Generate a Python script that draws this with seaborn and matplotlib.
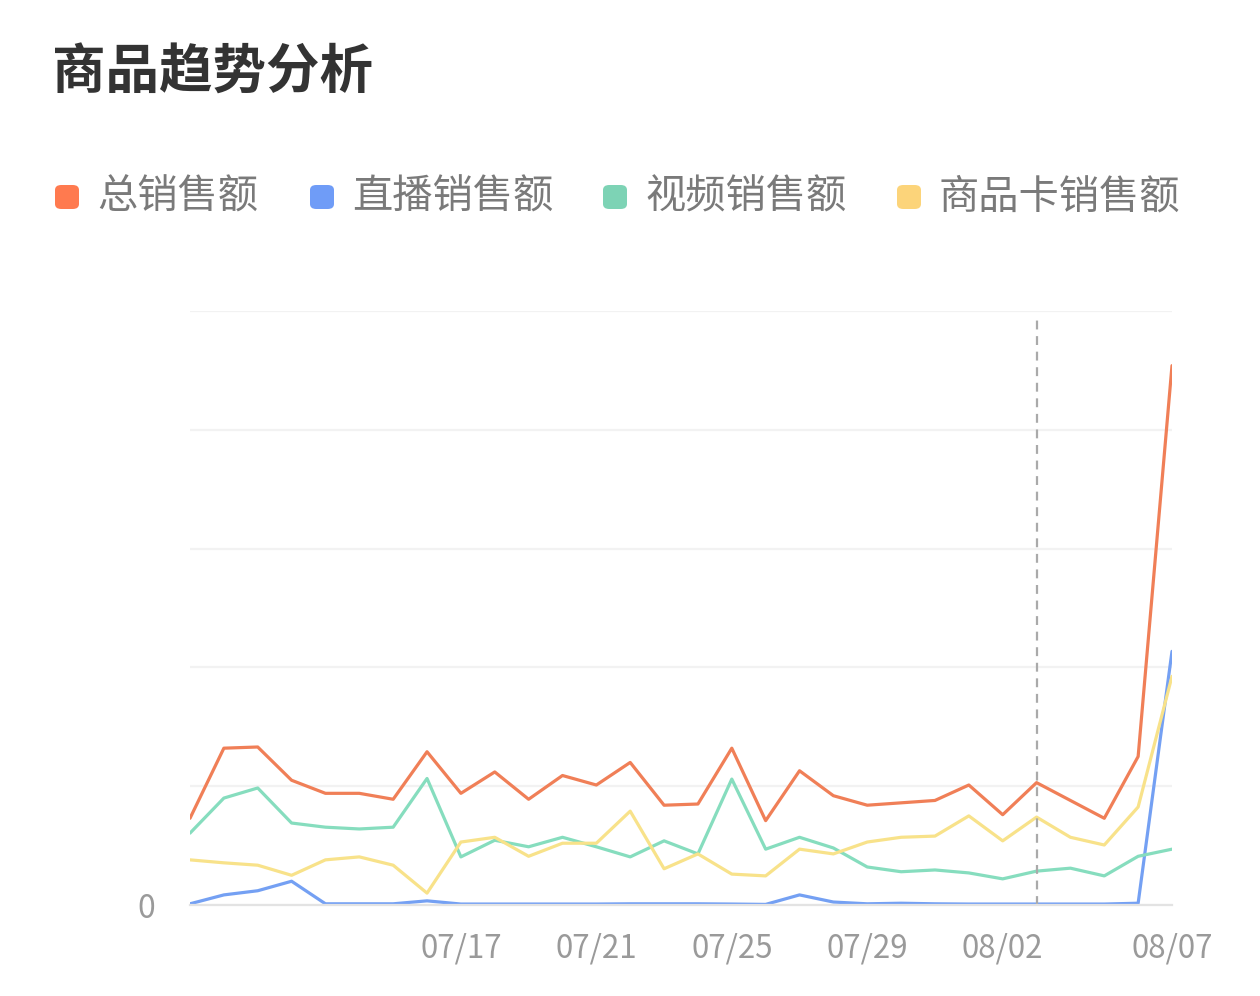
import pandas as pd
import matplotlib.pyplot as plt
from matplotlib.patches import FancyBboxPatch
import seaborn as sns

# dates 07/09 .. 08/07
dates = ['07/09', '07/10', '07/11', '07/12', '07/13', '07/14', '07/15', '07/16',
         '07/17', '07/18', '07/19', '07/20', '07/21', '07/22', '07/23', '07/24',
         '07/25', '07/26', '07/27', '07/28', '07/29', '07/30', '07/31', '08/01',
         '08/02', '08/03', '08/04', '08/05', '08/06', '08/07']

total = [730, 1320, 1330, 1050, 940, 940, 890, 1290, 940, 1120, 890, 1090, 1010, 1200, 840,
         850, 1320, 710, 1130, 920, 840, 860, 880, 1010, 760, 1030, 880, 730, 1250, 4540]
live = [10, 85, 120, 200, 10, 10, 10, 35, 8, 8, 8, 8, 8, 10, 10,
        10, 8, 5, 85, 25, 10, 15, 10, 8, 8, 8, 8, 8, 15, 2135]
video = [605, 900, 985, 690, 655, 640, 655, 1065, 405, 545, 490, 570, 490, 405, 540,
         430, 1060, 470, 570, 480, 320, 280, 295, 270, 220, 285, 310, 245, 410, 470]
card = [380, 355, 335, 250, 380, 405, 335, 100, 530, 570, 410, 520, 520, 790, 305,
        430, 260, 245, 470, 430, 530, 570, 580, 750, 540, 740, 570, 505, 825, 1925]

series_names = ['总销售额', '直播销售额', '视频销售额', '商品卡销售额']
colors = ['#F07F57', '#74A0F3', '#86DDBE', '#F8E28A']
legend_colors = ['#FF7A4F', '#6F9CF7', '#7DD3B5', '#FCD47A']

tick_labels = ['', '', '07/17', '07/21', '07/25', '07/29', '08/02', '08/07']
tick_pos = [0, 4, 8, 12, 16, 20, 24, 29]
marker_day = '08/03'

rows = []
for name, vals in zip(series_names, [total, live, video, card]):
    for i, v in enumerate(vals):
        rows.append({'day': i, 'value': v, 'series': name})
df = pd.DataFrame(rows)

sns.set_theme(style='white')
plt.rcParams['font.family'] = ['Noto Sans CJK SC', 'DejaVu Sans']

fig = plt.figure(figsize=(12.6, 9.96), dpi=100)
ax = fig.add_axes([190 / 1260, 1 - 905 / 996, (1172 - 190) / 1260, (905 - 311) / 996])

sns.lineplot(data=df, x='day', y='value', hue='series', palette=colors,
             linewidth=2.3, legend=False, ax=ax)

ax.set_xlim(0, 29)
ax.set_ylim(0, 5000)
ax.set_yticks([0, 1000, 2000, 3000, 4000, 5000])
ax.set_yticklabels(['0', '', '', '', '', ''])
ax.yaxis.grid(True, color='#F2F2F2', linewidth=1.6)
ax.set_xticks(tick_pos)
ax.set_xticklabels(tick_labels)
ax.tick_params(axis='x', length=12, width=1.5, color='#E3E3E3', labelcolor='#9A9A9A',
               labelsize=22.5, pad=8)
ax.tick_params(axis='y', length=0, labelcolor='#9A9A9A', labelsize=23, pad=25)
ax.set_xlabel('')
ax.set_ylabel('')
for side in ['top', 'right', 'left']:
    ax.spines[side].set_visible(False)
ax.spines['bottom'].set_color('#E3E3E3')
ax.spines['bottom'].set_linewidth(1.6)

ax.axvline(dates.index(marker_day), ymin=0, ymax=(905 - 318) / (905 - 311),
           color='#AAAAAA', linestyle=(0, (4, 3)), linewidth=1.6)

fig.text(52 / 1260, 1 - 73 / 996, '商品趋势分析', fontsize=38.5, fontweight='bold',
         color='#333333', va='center', ha='left')

sq_x = [55, 310, 603, 897]
for x0, name, c in zip(sq_x, series_names, legend_colors):
    fig.patches.append(FancyBboxPatch((x0 / 1260, 1 - 209 / 996), 24 / 1260, 24 / 996,
                                      boxstyle='round,pad=0,rounding_size=0.005',
                                      transform=fig.transFigure, facecolor=c,
                                      edgecolor='none'))
    fig.text((x0 + 42) / 1260, 1 - 197 / 996, name, fontsize=29, color='#7A7A7A',
             va='center', ha='left')

fig.savefig('out.png', dpi=100, facecolor='white')
